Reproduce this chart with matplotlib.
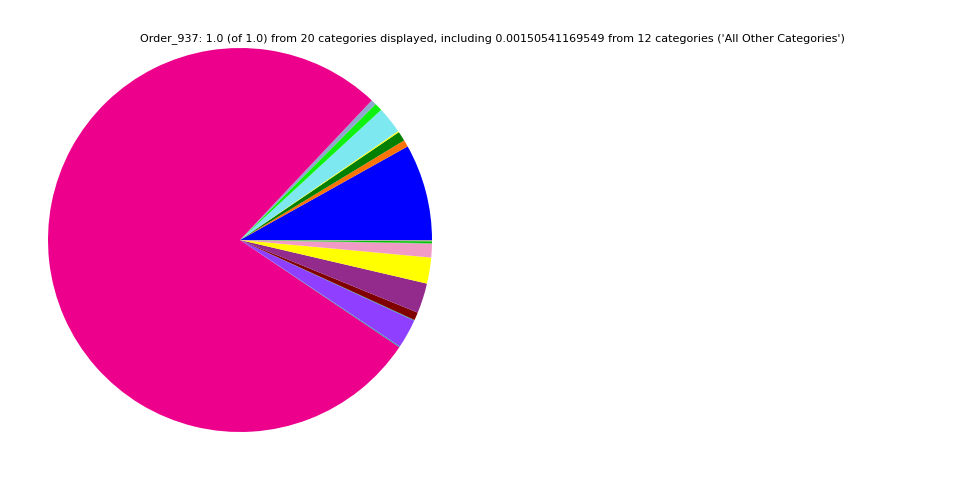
import matplotlib
matplotlib.use('Agg')
import matplotlib.pyplot as plt

# slice shares, counterclockwise from 3 o'clock
shares = [0.0811, 0.0058, 0.0081, 0.0011, 0.0225, 0.0067, 0.0044, 0.7767,
          0.0008, 0.0244, 0.0006, 0.0067, 0.0253, 0.0219, 0.0114, 0.0003,
          0.0003, 0.0015, 0.0003, 0.0008]
colors = ['#0000ff', '#f97306', '#007f00', '#ffff14', '#7de8f0', '#0ff20f',
          '#8fa8d0', '#ec008c', '#1a9a9a', '#8e3fff', '#1a9a9a', '#800000',
          '#922b8c', '#ffff00', '#f29ac6', '#a0a0a0', '#40c040', '#00c000',
          '#60d060', '#a0a0a0']
title = ("Order_937: 1.0 (of 1.0) from 20 categories displayed, including "
         "0.00150541169549 from 12 categories ('All Other Categories')")

fig = plt.figure(figsize=(9.6, 4.8), dpi=100)
ax = fig.add_axes([0.05, 0.1, 0.4, 0.8])
ax.pie(shares, colors=colors, startangle=0, counterclock=True)
ax.set_xlim(-1, 1)
ax.set_ylim(-1, 1)
fig.text(492 / 960, 1 - 39 / 480, title, ha='center', va='center', fontsize=8)
fig.savefig('out.png', dpi=100)
